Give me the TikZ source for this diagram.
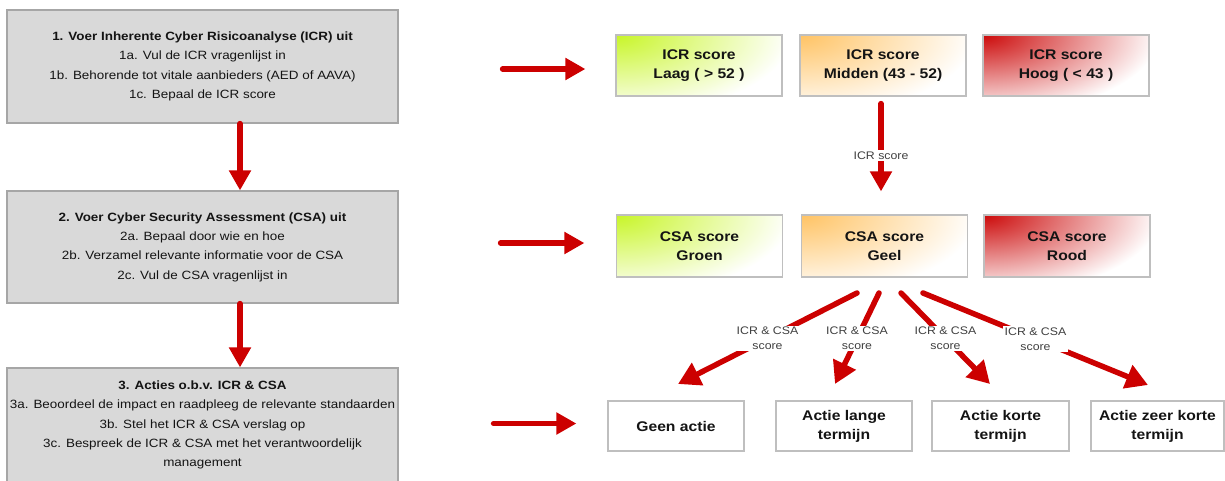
\documentclass[tikz,border=0pt]{standalone}
\usepackage{fontspec}
\setmainfont{Liberation Sans}[FakeStretch=1.12]
\usetikzlibrary{arrows.meta}
\definecolor{arrred}{RGB}{204,0,0}
\definecolor{boxgray}{RGB}{217,217,217}
\definecolor{boxborder}{RGB}{166,166,166}
\definecolor{scoreborder}{RGB}{191,191,191}
\definecolor{limeC}{RGB}{200,245,40}
\definecolor{orangeC}{RGB}{255,195,100}
\definecolor{redC}{RGB}{204,10,10}
\definecolor{txt}{RGB}{20,20,20}
\definecolor{lbl}{RGB}{64,64,64}
\begin{document}
\begin{tikzpicture}[x=1pt,y=-1pt,
  graybox/.style={draw=boxborder, fill=boxgray, line width=1.2pt, minimum width=391pt, align=center, text=txt, inner sep=0pt, font=\fontsize{12pt}{19.3pt}\selectfont},
  scorebox/.style={draw=scoreborder, fill=white, line width=1.2pt, minimum width=166pt, minimum height=61pt, align=center, text=txt, inner sep=0pt, font=\bfseries\fontsize{14pt}{19pt}\selectfont},
  actbox/.style={draw=scoreborder, fill=white, line width=1.2pt, minimum height=50pt, align=center, text=txt, inner sep=0pt, font=\bfseries\fontsize{14pt}{19pt}\selectfont},
  grad/.style={path picture={\shade[inner color=#1, outer color=white] (path picture bounding box.north west) ellipse (175pt and 80pt);}},
  arr/.style={draw=arrred, line width=5.5pt, line cap=round, -{Triangle[width=21pt,length=20pt]}},
  fanarr/.style={draw=arrred, line width=5.5pt, line cap=round, -{Triangle[width=24pt,length=22pt]}},
  lab/.style={fill=white, text=lbl, align=center, inner sep=1.5pt, font=\fontsize{11pt}{15pt}\selectfont}
]
\useasboundingbox (0,0) rectangle (1225,480);
\clip (0,0) rectangle (1225,480);

% left column
\node[graybox, minimum height=113pt] (b1) at (202.5,66.5)
  {\textbf{1. Voer Inherente Cyber Risicoanalyse (ICR) uit}\\1a. Vul de ICR vragenlijst in\\1b. Behorende tot vitale aanbieders (AED of AAVA)\\1c. Bepaal de ICR score};
\node[graybox, minimum height=112pt] (b2) at (202.5,247)
  {\textbf{2. Voer Cyber Security Assessment (CSA) uit}\\2a. Bepaal door wie en hoe\\2b. Verzamel relevante informatie voor de CSA\\2c. Vul de CSA vragenlijst in};
\node[graybox, minimum height=114pt] (b3) at (202.5,425)
  {\textbf{3. Acties o.b.v. ICR \& CSA}\\3a. Beoordeel de impact en raadpleeg de relevante standaarden\\3b. Stel het ICR \& CSA verslag op\\3c. Bespreek de ICR \& CSA met het verantwoordelijk\\management};

% ICR scores
\node[scorebox, grad=limeC] (laag) at (699,65.5) {ICR score\\Laag ( > 52 )};
\node[scorebox, grad=orangeC] (midden) at (883,65.5) {ICR score\\Midden (43 - 52)};
\node[scorebox, grad=redC] (hoog) at (1066,65.5) {ICR score\\Hoog ( < 43 )};

% CSA scores
\node[scorebox, minimum height=62pt, grad=limeC] (groen) at (699.5,246) {CSA score\\Groen};
\node[scorebox, minimum height=62pt, grad=orangeC] (geel) at (884.5,246) {CSA score\\Geel};
\node[scorebox, minimum height=62pt, grad=redC] (rood) at (1067,246) {CSA score\\Rood};

% actions
\node[actbox, minimum width=136pt] (geen) at (676,426) {Geen actie};
\node[actbox, minimum width=136pt] (lange) at (844,426) {Actie lange\\termijn};
\node[actbox, minimum width=137pt] (korte) at (1000.5,426) {Actie korte\\termijn};
\node[actbox, minimum width=133pt] (zeer) at (1157.5,426) {Actie zeer korte\\termijn};

% vertical arrows left
\draw[arr] ([xshift=37.5pt]b1.south) -- ([xshift=37.5pt]b2.north);
\draw[arr] ([xshift=37.5pt]b2.south) -- ([xshift=37.5pt]b3.north);

% horizontal arrows
\draw[arr, shorten <=104pt, shorten >=30pt] ([yshift=-2.5pt]b1.east) -- ([yshift=-2.5pt]b1.east -| laag.west);
\draw[arr, shorten <=102pt, shorten >=31.5pt] ([yshift=4pt]b2.east) -- ([yshift=4pt]b2.east -| groen.west);
\draw[arr, shorten <=95pt, shorten >=31pt] ([yshift=1.5pt]b3.east) -- ([yshift=1.5pt]b3.east -| geen.west);

% ICR score arrow
\draw[arr, shorten <=7pt, shorten >=23pt] ([xshift=-2pt]midden.south) -- ([xshift=-2pt]midden.south |- geel.north)
  node[lab, midway] {ICR score};

% fan arrows
\coordinate (f1s) at (857,293); \coordinate (f1e) at (678,384);
\coordinate (f2s) at (879,293); \coordinate (f2e) at (835,384);
\coordinate (f3s) at (901,293); \coordinate (f3e) at (990,384);
\coordinate (f4s) at (923,293); \coordinate (f4e) at (1148,385);
\draw[fanarr] (f1s) -- (f1e) node[lab, midway] {ICR \& CSA\\score};
\draw[fanarr] (f2s) -- (f2e) node[lab, midway] {ICR \& CSA\\score};
\draw[fanarr] (f3s) -- (f3e) node[lab, midway] {ICR \& CSA\\score};
\draw[fanarr] (f4s) -- (f4e) node[lab, midway] {ICR \& CSA\\score};
\end{tikzpicture}
\end{document}
